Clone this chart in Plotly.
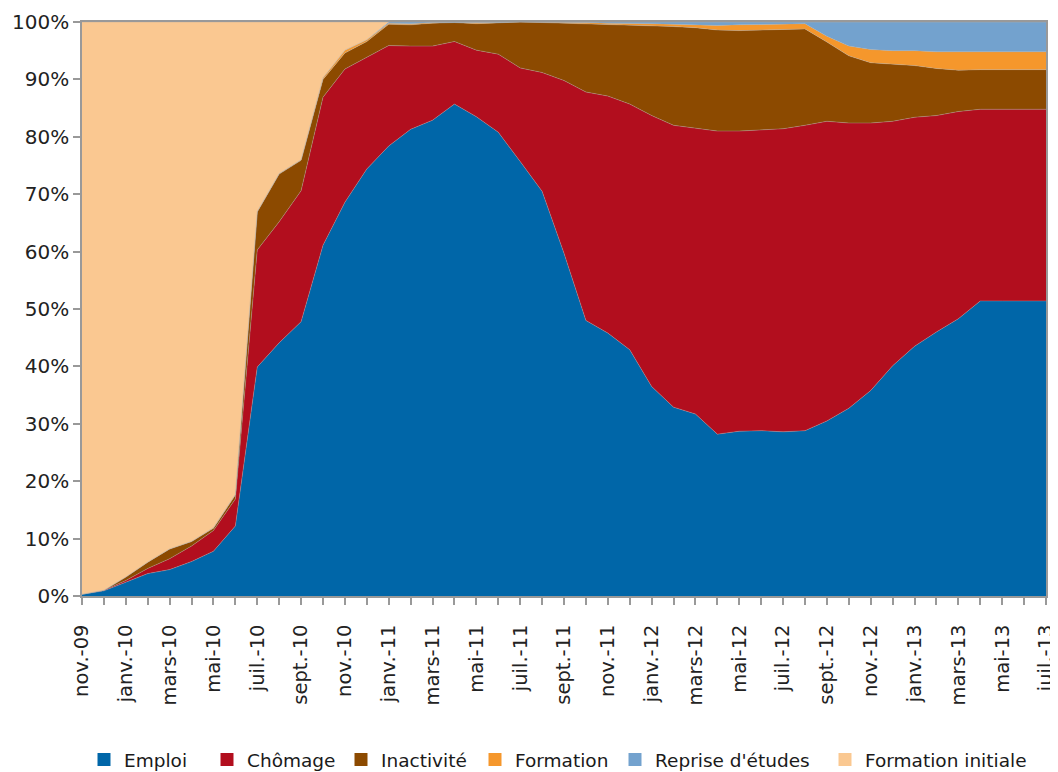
import plotly.graph_objects as go

months = ['nov.-09','déc.-09','janv.-10','févr.-10','mars-10','avr.-10','mai-10','juin-10',
          'juil.-10','août-10','sept.-10','oct.-10','nov.-10','déc.-10','janv.-11','févr.-11',
          'mars-11','avr.-11','mai-11','juin-11','juil.-11','août-11','sept.-11','oct.-11',
          'nov.-11','déc.-11','janv.-12','févr.-12','mars-12','avr.-12','mai-12','juin-12',
          'juil.-12','août-12','sept.-12','oct.-12','nov.-12','déc.-12','janv.-13','févr.-13',
          'mars-13','avr.-13','mai-13','juin-13','juil.-13']

emploi = [0.3,0.9,2.4,3.9,4.6,6.0,7.8,12.2,39.9,44.1,47.8,61.1,68.6,74.4,78.4,81.3,
          82.9,85.7,83.5,80.8,75.7,70.5,59.7,48.0,45.8,42.9,36.5,32.9,31.7,28.2,28.7,28.8,
          28.6,28.8,30.5,32.7,35.8,40.1,43.5,46.0,48.3,51.4,51.4,51.4,51.4]
chomage = [0.0,0.1,0.3,0.9,1.9,2.7,3.6,4.7,20.4,21.1,22.8,25.8,23.2,19.5,17.5,14.5,
           12.9,10.9,11.6,13.6,16.3,20.7,30.1,39.8,41.3,42.8,47.2,49.1,49.8,52.8,52.3,52.4,
           52.8,53.2,52.2,49.7,46.6,42.6,39.9,37.7,36.1,33.4,33.4,33.4,33.4]
inactivite = [0.0,0.0,0.6,1.1,1.7,0.8,0.4,0.7,6.6,8.3,5.3,3.1,2.8,2.7,3.7,3.7,
              4.0,3.3,4.6,5.5,8.0,8.7,10.0,11.9,12.5,13.8,15.6,17.2,17.5,17.6,17.5,17.4,
              17.4,16.8,13.8,11.7,10.5,10.0,9.0,8.2,7.2,6.9,6.9,6.9,6.9]
formation = [0.0,0.0,0.0,0.0,0.0,0.0,0.1,0.1,0.1,0.1,0.1,0.3,0.5,0.3,0.2,0.2,
             0.1,0.0,0.1,0.0,0.0,0.1,0.1,0.2,0.2,0.3,0.4,0.4,0.5,0.8,1.0,1.0,
             0.9,0.9,1.0,1.7,2.3,2.3,2.6,2.9,3.2,3.1,3.1,3.1,3.1]
reprise = [0.0,0.0,0.0,0.0,0.0,0.0,0.0,0.0,0.0,0.0,0.0,0.0,0.0,0.0,0.2,0.3,
           0.1,0.1,0.2,0.1,0.0,0.0,0.1,0.1,0.2,0.2,0.3,0.4,0.5,0.6,0.5,0.4,
           0.3,0.3,2.5,4.2,4.8,5.0,5.0,5.2,5.2,5.2,5.2,5.2,5.2]
formation_initiale = [99.7,99.0,96.7,94.1,91.8,90.5,88.1,82.3,33.0,26.4,24.0,9.7,4.9,3.1,0,0,
                      0,0,0,0,0,0,0,0,0,0,0,0,0,0,0,0,
                      0,0,0,0,0,0,0,0,0,0,0,0,0]

series_names = ['Emploi', 'Chômage', 'Inactivité', 'Formation', "Reprise d'études", 'Formation initiale']
series_values = [emploi, chomage, inactivite, formation, reprise, formation_initiale]
series_colors = ['#0066A8', '#B20E1E', '#8C4A00', '#F5972C', '#73A2CE', '#FAC891']
legend_text_left_px = [124, 247, 381, 515, 655, 865]

# page offset from the default 8px body margin of the HTML page
OFF = 8
W, H = 1058 - OFF, 772 - OFF
PLOT_L, PLOT_R, PLOT_T, PLOT_B = 82 - OFF, 1046 - OFF, 22 - OFF, 596 - OFF
LEG_Y = 760 - OFF

fig = go.Figure()
for name, vals, col in zip(series_names, series_values, series_colors):
    fig.add_trace(go.Scatter(
        x=months, y=vals, name=name, mode='lines', stackgroup='one',
        line=dict(width=0.5, color='rgba(170,170,170,0.75)'), fillcolor=col,
        showlegend=False,
    ))

legends = {}
for k, (name, col, tx) in enumerate(zip(series_names, series_colors, legend_text_left_px)):
    lname = 'legend' if k == 0 else f'legend{k+1}'
    fig.add_trace(go.Scatter(
        x=[None], y=[None], name=name, mode='markers',
        marker=dict(symbol='square', size=13, color=col),
        showlegend=True, legend=lname,
    ))
    legends[lname] = dict(
        x=(tx - OFF - 40 - PLOT_L) / (PLOT_R - PLOT_L), xanchor='left',
        y=(PLOT_B - LEG_Y) / (PLOT_B - PLOT_T), yanchor='middle',
        orientation='h', font=dict(size=18.5, color='#1a1a1a'),
        bgcolor='rgba(0,0,0,0)', borderwidth=0, itemclick=False, itemdoubleclick=False,
    )

ticktext = [m if i % 2 == 0 else '' for i, m in enumerate(months)]

fig.update_layout(
    width=W, height=H,
    margin=dict(l=PLOT_L, r=W - PLOT_R, t=PLOT_T, b=H - PLOT_B, autoexpand=False),
    paper_bgcolor='white', plot_bgcolor='white',
    font=dict(family='DejaVu Sans, sans-serif', size=18, color='#222222'),
    showlegend=True,
    hovermode=False,
    **legends,
)
fig.update_xaxes(
    type='category', range=[0, len(months) - 1], automargin=False,
    tickmode='array', tickvals=months, ticktext=ticktext, tickangle=-90,
    ticks='outside', ticklen=7, tickcolor='#999999', tickwidth=1.5,
    ticklabelstandoff=12,
    showline=True, linecolor='#999999', linewidth=1.5, mirror=True,
    showgrid=False, tickfont=dict(size=19.5, color='#222222'), zeroline=False,
)
fig.update_yaxes(
    range=[0, 100], dtick=10, ticksuffix='%', automargin=False,
    ticks='outside', ticklen=7, tickcolor='#999999', tickwidth=1.5,
    showline=True, linecolor='#999999', linewidth=1.5, mirror=True,
    showgrid=False, zeroline=False, tickfont=dict(size=20, color='#222222'),
)

fig.write_html('out.html')
